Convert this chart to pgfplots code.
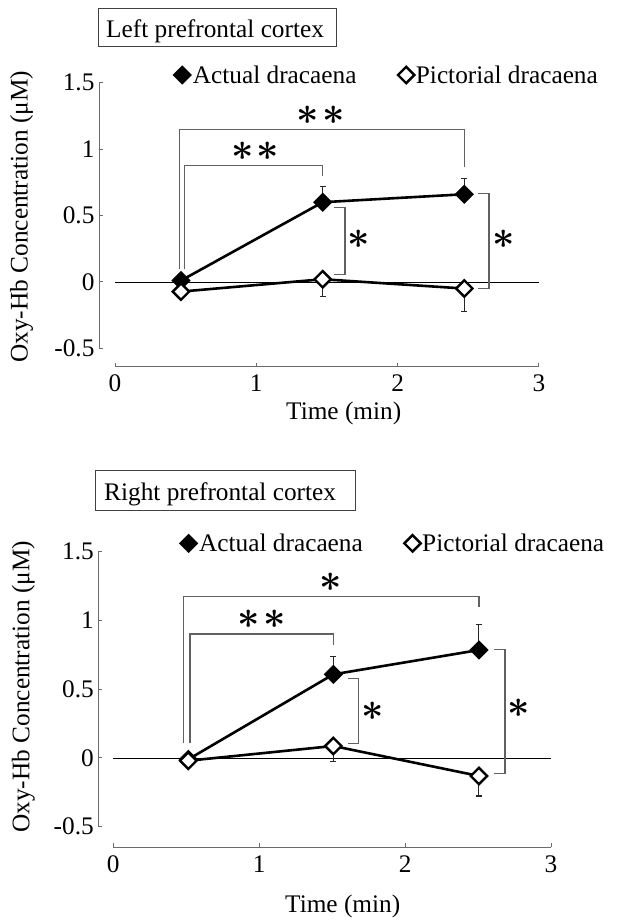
\documentclass[border=0pt]{standalone}
\usepackage{amsmath}
\usepackage{pgfplots}
\pgfplotsset{compat=1.18}
\usepackage{fontspec}
\setmainfont{Liberation Serif}
\newcommand\fs{\fontsize{25.3}{30}\selectfont}
\newcommand\st{\boldsymbol{\ast}}
\definecolor{axgray}{gray}{0.42}
\definecolor{brgray}{gray}{0.38}
\tikzset{sigstar/.style={font=\normalsize, scale=3.9, inner sep=0pt}}

\pgfplotsset{
  panel/.style={
    anchor=south west,
    xmin=0, xmax=3, ymin=-0.5, ymax=1.5,
    axis x line*=bottom, axis y line*=left,
    axis line style={axgray, line width=1pt},
    xtick={0,1,2,3}, ytick={-0.5,0,0.5,1,1.5},
    tick align=inside, major tick length=4pt,
    tick style={axgray, line width=1pt},
    ticklabel style={font=\fs},
    /pgf/number format/assume math mode=true,
    xticklabel style={yshift=-4.6pt},
    yticklabel style={xshift=-1pt},
    clip=false,
    legend columns=2,
    legend image code/.code={\draw[##1, only marks] plot coordinates {(0pt,0pt)};},
    legend style={draw=none, fill=none, inner sep=0pt, anchor=west, font=\fs,
      nodes={inner sep=1.5pt},
      /tikz/every even column/.append style={column sep=40pt}},
  },
  actual/.style={black, line width=2.6pt, mark=square*, mark size=6.4pt,
    mark options={rotate=45, solid, fill=black, line width=0.8pt},
    error bars/.cd, y dir=plus, y explicit,
    error bar style={black!85, line width=1.1pt},
    error mark options={rotate=90, black!85, line width=1.1pt, mark size=3pt}},
  pict/.style={black, line width=2.6pt, mark=square*, mark size=5.8pt,
    mark options={rotate=45, solid, fill=white, line width=2.4pt},
    error bars/.cd, y dir=minus, y explicit,
    error bar style={black!85, line width=1.1pt},
    error mark options={rotate=90, black!85, line width=1.1pt, mark size=3pt}},
}

\begin{document}
\begin{tikzpicture}
\useasboundingbox (0,0) rectangle (618pt,-920pt);

% ---------------- Top panel ----------------
\draw[black!75, line width=1pt] (98.3pt,-8.3pt) rectangle (336pt,-46.7pt);
\node[anchor=base west, inner sep=0pt, font=\fs] at (106pt,-37.3pt) {Left prefrontal cortex};
\node[rotate=90, font=\fs] at (21.7pt,-216.7pt) {Oxy-Hb Concentration (μM)};
\node[anchor=base west, inner sep=0pt, font=\fs] at (286pt,-419.3pt) {Time (min)};

\begin{axis}[panel, at={(115pt,-348.3pt)}, x=141.3pt, y=132.8pt,
  axis x line shift=18.4pt, axis y line shift=16pt,
  legend style={at={(axis description cs:0.137,1.029)}}]
\addplot[black, line width=0.8pt, forget plot] coordinates {(0,0) (3,0)};
\addplot[actual] coordinates {
  (0.467,0.01) +- (0,0.03)
  (1.47,0.60)  +- (0,0.118)
  (2.472,0.66) +- (0,0.116)
};
\addplot[pict] coordinates {
  (0.467,-0.073) +- (0,0.03)
  (1.47,0.02)    +- (0,0.13)
  (2.472,-0.05)  +- (0,0.174)
};
\legend{Actual dracaena, Pictorial dracaena}
\draw[brgray, line width=1.2pt] (axis cs:0.455,0.096) |- (axis cs:2.472,1.145) -- (axis cs:2.472,0.868);
\draw[brgray, line width=1.2pt] (axis cs:0.49,0.096) |- (axis cs:1.47,0.876) -- (axis cs:1.47,0.80);
\draw[brgray, line width=1.2pt] (axis cs:1.552,0.56) -| (axis cs:1.628,0.058) -- (axis cs:1.552,0.058);
\draw[brgray, line width=1.2pt] (axis cs:2.571,0.668) -| (axis cs:2.647,-0.047) -- (axis cs:2.571,-0.047);
\node[sigstar] at (axis cs:1.456,1.257) {${\st}\kern0.8pt{\st}$};
\node[sigstar] at (axis cs:0.993,0.981) {${\st}\kern0.8pt{\st}$};
\node[sigstar] at (axis cs:1.722,0.32) {$\st$};
\node[sigstar] at (axis cs:2.753,0.32) {$\st$};
\end{axis}

% ---------------- Bottom panel ----------------
\draw[black!75, line width=1pt] (95.7pt,-470pt) rectangle (355pt,-510pt);
\node[anchor=base west, inner sep=0pt, font=\fs] at (104pt,-500pt) {Right prefrontal cortex};
\node[rotate=90, font=\fs] at (23.3pt,-686.7pt) {Oxy-Hb Concentration (μM)};
\node[anchor=base west, inner sep=0pt, font=\fs] at (285pt,-912.3pt) {Time (min)};

\begin{axis}[panel, at={(113.3pt,-826.7pt)}, x=145.9pt, y=137.5pt,
  axis x line shift=20.6pt, axis y line shift=15pt,
  legend style={at={(axis description cs:0.151,1.0305)}}]
\addplot[black, line width=0.8pt, forget plot] coordinates {(0,0) (3,0)};
\addplot[actual] coordinates {
  (0.514,-0.01) +- (0,0.03)
  (1.508,0.608) +- (0,0.128)
  (2.506,0.785) +- (0,0.187)
};
\addplot[pict] coordinates {
  (0.514,-0.02) +- (0,0.03)
  (1.508,0.087) +- (0,0.114)
  (2.506,-0.131) +- (0,0.146)
};
\legend{Actual dracaena, Pictorial dracaena}
\draw[brgray, line width=1.2pt] (axis cs:0.48,0.111) |- (axis cs:2.506,1.173) -- (axis cs:2.506,1.10);
\draw[brgray, line width=1.2pt] (axis cs:0.526,0.111) |- (axis cs:1.508,0.901) -- (axis cs:1.508,0.821);
\draw[brgray, line width=1.2pt] (axis cs:1.611,0.579) -| (axis cs:1.679,0.107) -- (axis cs:1.611,0.107);
\draw[brgray, line width=1.2pt] (axis cs:2.611,0.79) -| (axis cs:2.685,-0.112) -- (axis cs:2.611,-0.112);
\node[sigstar] at (axis cs:1.492,1.276) {$\st$};
\node[sigstar] at (axis cs:1.017,1.008) {${\st}\kern0.8pt{\st}$};
\node[sigstar] at (axis cs:1.778,0.336) {$\st$};
\node[sigstar] at (axis cs:2.781,0.361) {$\st$};
\end{axis}
\end{tikzpicture}
\end{document}
